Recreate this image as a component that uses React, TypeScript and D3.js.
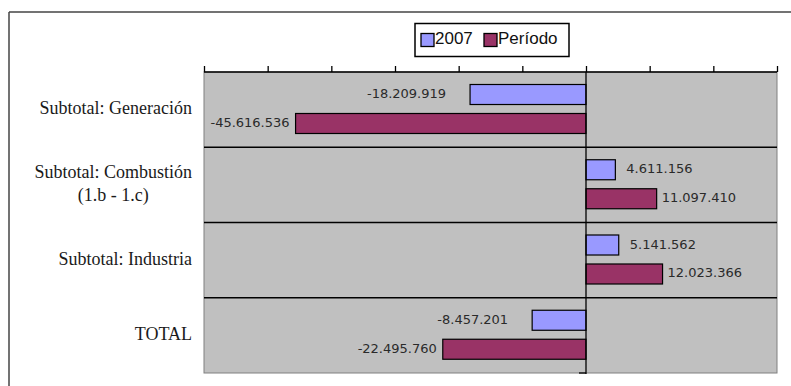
import React, { useEffect, useRef } from "react";
import * as d3 from "d3";

const categories = ["Generación", "Combustión", "Industria", "TOTAL"];
const categoryLines = [
  ["Subtotal: Generación"],
  ["Subtotal: Combustión", "(1.b - 1.c)"],
  ["Subtotal: Industria"],
  ["TOTAL"],
];
const seriesNames = ["2007", "Período"];
const values2007 = [-18209919, 4611156, 5141562, -8457201];
const valuesPeriodo = [-45616536, 11097410, 12023366, -22495760];
const xTicks = [-60e6, -50e6, -40e6, -30e6, -20e6, -10e6, 0, 10e6, 20e6, 30e6];

const W = 791;
const H = 386;
const colors: Record<string, string> = { "2007": "#9999FF", "Período": "#993366" };
const labelGap: Record<string, { pos: number; neg: number }> = {
  "2007": { pos: 11, neg: 24 },
  "Período": { pos: 5, neg: 6 },
};

export default function App() {
  const ref = useRef<SVGSVGElement>(null);

  useEffect(() => {
    const svg = d3.select(ref.current);
    svg.selectAll("*").remove();

    const plot = { left: 204, right: 777, top: 72, bottom: 373 };
    const x = d3.scaleLinear().domain([-60e6, 30e6]).range([plot.left, plot.right]);
    const y = d3.scaleBand().domain(categories).range([plot.top, plot.bottom]).padding(0);
    const yInner = d3.scaleBand().domain(seriesNames).range([12.5, 61.5]).paddingInner(0.31).paddingOuter(0);

    const fmt = d3
      .formatLocale({ decimal: ",", thousands: ".", grouping: [3], currency: ["", ""], minus: "-" })
      .format(",d");

    // outer chart border
    svg.append("line").attr("x1", 9).attr("x2", W).attr("y1", 12).attr("y2", 12)
      .attr("stroke", "#444").attr("stroke-width", 1.5);
    svg.append("line").attr("x1", 9).attr("x2", 9).attr("y1", 12).attr("y2", H)
      .attr("stroke", "#444").attr("stroke-width", 1.5);

    // plot area
    svg.append("rect")
      .attr("x", plot.left).attr("y", plot.top)
      .attr("width", plot.right - plot.left).attr("height", plot.bottom - plot.top)
      .attr("fill", "#C0C0C0").attr("stroke", "#808080").attr("stroke-width", 1);

    // category separators
    const bounds = categories.slice(1).map((c) => y(c) as number);
    svg.selectAll(".sep").data(bounds).enter().append("line")
      .attr("x1", plot.left).attr("x2", plot.right)
      .attr("y1", (d) => d).attr("y2", (d) => d)
      .attr("stroke", "#000").attr("stroke-width", 1.3);

    // bars
    const data = categories.flatMap((c, i) => [
      { cat: c, series: "2007", value: values2007[i] },
      { cat: c, series: "Período", value: valuesPeriodo[i] },
    ]);
    const g = svg.append("g");
    g.selectAll("rect").data(data).enter().append("rect")
      .attr("x", (d) => x(Math.min(0, d.value)))
      .attr("y", (d) => (y(d.cat) as number) + (yInner(d.series) as number))
      .attr("width", (d) => Math.abs(x(d.value) - x(0)))
      .attr("height", yInner.bandwidth())
      .attr("fill", (d) => colors[d.series])
      .attr("stroke", "#000").attr("stroke-width", 1.2);

    // data labels
    g.selectAll("text").data(data).enter().append("text")
      .attr("x", (d) =>
        d.value >= 0 ? x(d.value) + labelGap[d.series].pos : x(d.value) - labelGap[d.series].neg)
      .attr("y", (d) => (y(d.cat) as number) + (yInner(d.series) as number) + yInner.bandwidth() / 2 + 3.5)
      .attr("text-anchor", (d) => (d.value >= 0 ? "start" : "end"))
      .attr("font-family", "DejaVu Sans, sans-serif")
      .attr("font-size", 13)
      .attr("fill", "#2a2a2a")
      .text((d) => fmt(d.value));

    // zero line (category axis)
    svg.append("line").attr("x1", x(0)).attr("x2", x(0)).attr("y1", plot.top).attr("y2", plot.bottom + 1)
      .attr("stroke", "#000").attr("stroke-width", 1.3);
    svg.append("line").attr("x1", x(0) - 7).attr("x2", x(0)).attr("y1", plot.bottom).attr("y2", plot.bottom)
      .attr("stroke", "#000").attr("stroke-width", 1.3);

    // top value axis
    const axis = d3.axisTop(x).tickValues(xTicks).tickSize(6).tickFormat(() => "");
    const ag = svg.append("g").attr("transform", `translate(0,${plot.top})`).call(axis);
    ag.select(".domain").attr("stroke", "#000").attr("stroke-width", 1.5).attr("d", `M${plot.left},0H${plot.right}`);
    ag.selectAll(".tick line").attr("stroke", "#000").attr("stroke-width", 1.3);

    // category labels
    categoryLines.forEach((lines, i) => {
      const c = categories[i];
      const cy = (y(c) as number) + y.bandwidth() / 2;
      const lh = 22.5;
      const t = svg.append("g");
      const texts = lines.map((ln, j) =>
        t.append("text")
          .attr("y", cy + 4.5 + (j - (lines.length - 1) / 2) * lh)
          .attr("font-family", "Liberation Serif, Times New Roman, serif")
          .attr("font-size", 18)
          .attr("fill", "#1a1a1a")
          .attr("text-anchor", "middle")
          .text(ln)
      );
      const widths = texts.map((tx) => (tx.node() as SVGTextElement).getComputedTextLength());
      const maxW = Math.max(...widths);
      const cxText = 192 - maxW / 2;
      texts.forEach((tx) => tx.attr("x", cxText));
    });

    // legend
    const lg = svg.append("g");
    lg.append("rect").attr("x", 415).attr("y", 23.5).attr("width", 154).attr("height", 33)
      .attr("fill", "#fff").attr("stroke", "#000").attr("stroke-width", 1.5);
    const legendX = [421, 484];
    seriesNames.forEach((s, i) => {
      lg.append("rect").attr("x", legendX[i]).attr("y", 33.5).attr("width", 13).attr("height", 13)
        .attr("fill", colors[s]).attr("stroke", "#000").attr("stroke-width", 1.3);
      lg.append("text").attr("x", legendX[i] + 14).attr("y", 43.5)
        .attr("font-family", "Liberation Sans, Arial, sans-serif").attr("font-size", 17)
        .attr("fill", "#111").text(s);
    });
  }, []);

  return (
    <svg
      ref={ref}
      width={W}
      height={H}
      style={{ position: "absolute", left: 0, top: 0, background: "#fff" }}
    />
  );
}
